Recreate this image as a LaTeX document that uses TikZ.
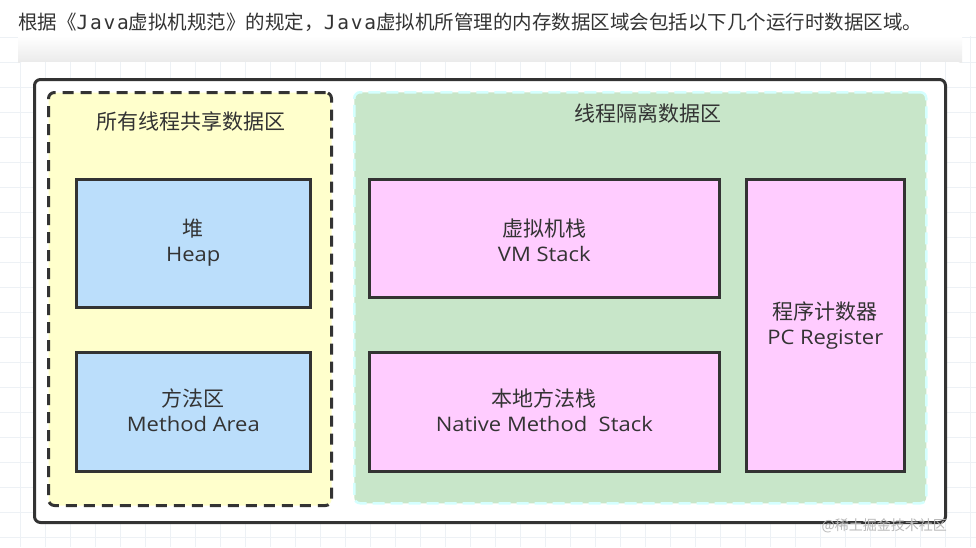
\documentclass[tikz,border=0pt]{standalone}
\usepackage{fontspec}
\setmainfont[FakeStretch=1.1]{Open Sans}
\newfontfamily\cjk{Noto Sans CJK SC}
\newfontfamily\jmono[LetterSpace=9]{DejaVu Sans Mono}
\definecolor{txt}{HTML}{333333}
\definecolor{ylw}{HTML}{FFFFCC}
\definecolor{blu}{HTML}{BBDEFB}
\definecolor{pnk}{HTML}{FFCCFF}
\definecolor{grn}{HTML}{C8E6C9}
\definecolor{cyn}{HTML}{D4FFFF}
\definecolor{gridc}{HTML}{EDF1F5}
\newcommand{\zh}[1]{{\cjk\fontsize{21}{25}\selectfont #1}}
\tikzset{
  px/.style={x=1pt,y=-1pt},
  membox/.style={draw=txt,line width=2.6pt,inner sep=0pt,anchor=north west},
  lbl/.style={text=txt,font=\fontsize{20}{25}\selectfont,align=center,inner sep=0pt},
  area/.style={rounded corners=6pt,inner sep=0pt,anchor=north west},
  ttl/.style={text=txt,font=\cjk\fontsize{21}{26}\selectfont,inner sep=0pt}
}
\begin{document}
\begin{tikzpicture}[px]
\useasboundingbox (0,0) rectangle (976,547);
\fill[white] (0,0) rectangle (976,547);
% grid background
\foreach \x in {20,45,...,976} \draw[gridc,line width=0.8pt] (\x,0) -- (\x,547);
\foreach \y in {12,37,...,547} \draw[gridc,line width=0.8pt] (0,\y) -- (976,\y);
\fill[white] (0,0) rectangle (976,36);
\shade[top color=white,bottom color=black!8] (18,36) rectangle (962,62);
\fill[white,rounded corners=4pt] (18,62) rectangle (962,547);
\foreach \x in {20,45,...,962} \draw[gridc,line width=0.8pt] (\x,62) -- (\x,547);
\foreach \y in {87,112,...,547} \draw[gridc,line width=0.8pt] (18,\y) -- (962,\y);
% heading
\node[anchor=west,inner sep=0pt,text=txt,font=\cjk\fontsize{19.5}{22}\selectfont] (head) at (18,22)
  {根据《{\jmono Java}虚拟机规范》的规定，{\jmono Java}虚拟机所管理的内存数据区域会包括以下几个运行时数据区域。};
% outer box
\node[draw=txt,fill=white,line width=3pt,rounded corners=6pt,inner sep=0pt,anchor=north west,minimum width=911pt,minimum height=443pt] (outer) at (33,78) {};
% shared area
\node[area,draw=txt,fill=ylw,line width=3pt,dash pattern=on 11pt off 7pt,minimum width=283pt,minimum height=413pt] (shared) at (47,91) {};
\node[ttl] (sharedt) at (191,121) {所有线程共享数据区};
% isolated area
\node[area,draw=cyn,fill=grn,line width=2.5pt,dash pattern=on 12pt off 6pt,minimum width=572pt,minimum height=411pt] (iso) at (353,91) {};
\node[ttl] (isot) at (648,113) {线程隔离数据区};
% memory boxes
\node[membox,fill=blu,minimum width=234pt,minimum height=128pt] (heap) at (75,178) {};
\node[lbl] (heapt) at ([yshift=1pt]heap.center) {\zh{堆}\\Heap};
\node[membox,fill=blu,minimum width=234pt,minimum height=119pt] (method) at (75,351) {};
\node[lbl] (methodt) at ([yshift=2pt]method.center) {\zh{方法区}\\Method Area};
\node[membox,fill=pnk,minimum width=350pt,minimum height=118pt] (vm) at (368,178) {};
\node[lbl] (vmt) at ([yshift=-2pt]vm.center) {\zh{虚拟机栈}\\VM Stack};
\node[membox,fill=pnk,minimum width=350pt,minimum height=119pt] (native) at (368,351) {};
\node[lbl] (nativet) at ([yshift=2pt]native.center) {\zh{本地方法栈}\\Native Method\ \ Stack};
\node[membox,fill=pnk,minimum width=158pt,minimum height=292pt] (pc) at (745,178) {};
\node[lbl] (pct) at ([yshift=0pt]pc.center) {\zh{程序计数器}\\PC Register};
% watermark
\node[anchor=east,inner sep=0pt,text=black!28,font=\cjk\fontsize{14}{16}\selectfont] (wm) at (947,526) {@稀土掘金技术社区};
\end{tikzpicture}
\end{document}
